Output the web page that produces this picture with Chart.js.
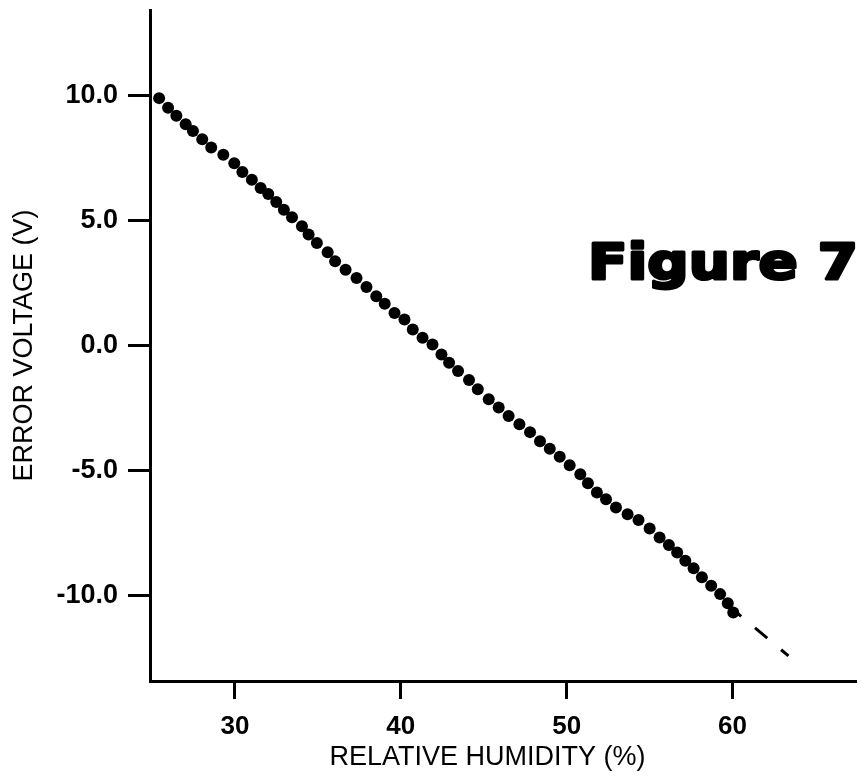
<!DOCTYPE html>
<html>
<head>
<meta charset="utf-8">
<script src="https://cdn.jsdelivr.net/npm/chart.js@4/dist/chart.umd.min.js"></script>
<style>
  html, body { margin: 0; padding: 0; background: #fff; overflow: hidden; }
  canvas { display: block; }
</style>
</head>
<body>
<canvas id="c" width="862" height="777"></canvas>
<script>
// ---- data ----
const humidity = [
  25.43, 25.97, 26.47, 27.03, 27.47, 28.03, 28.57, 29.30, 29.96, 30.45,
  31.02, 31.55, 32.01, 32.49, 32.95, 33.44, 34.04, 34.44, 34.94, 35.59,
  36.04, 36.67, 37.33, 37.93, 38.52, 39.03, 39.62, 40.22, 40.72, 41.31,
  41.91, 42.45, 42.91, 43.45, 44.11, 44.64, 45.30, 45.90, 46.50, 47.15,
  47.79, 48.39, 48.98, 49.58, 50.18, 50.82, 51.28, 51.82, 52.37, 52.97,
  53.67, 54.33, 55.00, 55.60, 56.16, 56.66, 57.15, 57.65, 58.15, 58.71,
  59.25, 59.71, 60.04
];
const errorVoltage = [
  9.88, 9.50, 9.18, 8.84, 8.57, 8.24, 7.91, 7.62, 7.28, 6.93,
  6.62, 6.29, 6.05, 5.73, 5.42, 5.12, 4.76, 4.43, 4.09, 3.72,
  3.36, 3.03, 2.70, 2.34, 1.97, 1.67, 1.30, 1.04, 0.64, 0.31,
  0.04, -0.36, -0.69, -1.02, -1.38, -1.75, -2.15, -2.48, -2.82, -3.15,
  -3.46, -3.82, -4.12, -4.44, -4.78, -5.14, -5.50, -5.87, -6.14, -6.47,
  -6.74, -6.97, -7.31, -7.67, -7.97, -8.27, -8.60, -8.90, -9.26, -9.60,
  -9.93, -10.29, -10.66
];
// dashed extrapolation line
const fitX = [59.78, 63.37];
const fitY = [-10.41, -12.40];

const xTicks = [30, 40, 50, 60];
const yTicks = [-10, -5, 0, 5, 10];
const xRange = [24.88, 67.44];
const yRange = [-13.4, 13.4];

const xTitle = 'RELATIVE HUMIDITY (%)';
const yTitle = 'ERROR VOLTAGE (V)';
const figLabel = 'Figure 7';

// ---- chart ----
const FONT = '"Liberation Sans", Arial, Helvetica, sans-serif';

const textPlugin = {
  id: 'texts',
  afterDraw(chart) {
    const ctx = chart.ctx;
    ctx.save();
    ctx.fillStyle = '#000';
    // x axis title
    ctx.font = '27px ' + FONT;
    ctx.textAlign = 'center';
    ctx.textBaseline = 'alphabetic';
    ctx.fillText(xTitle, 487.5, 765);
    // Figure label
    ctx.font = 'bold 50px "DejaVu Sans", sans-serif';
    ctx.textAlign = 'left';
    const w = ctx.measureText(figLabel).width;
    const sx = 270 / w;
    ctx.translate(588, 279);
    ctx.scale(sx, 1);
    ctx.lineWidth = 3;
    ctx.strokeStyle = '#000';
    ctx.lineJoin = 'round';
    ctx.fillText(figLabel, 0, 0);
    ctx.strokeText(figLabel, 0, 0);
    ctx.restore();
  }
};

new Chart(document.getElementById('c'), {
  type: 'scatter',
  data: {
    datasets: [
      {
        label: 'data',
        data: humidity.map((x, i) => ({ x: x, y: errorVoltage[i] })),
        backgroundColor: '#000',
        borderColor: '#000',
        borderWidth: 0,
        pointRadius: 6,
        pointHoverRadius: 6,
        order: 0
      },
      {
        label: 'fit',
        type: 'line',
        data: fitX.map((x, i) => ({ x: x, y: fitY[i] })),
        borderColor: '#000',
        borderWidth: 3,
        borderDash: [16, 18],
        pointRadius: 0,
        fill: false,
        showLine: true,
        order: 1
      }
    ]
  },
  options: {
    responsive: false,
    animation: false,
    devicePixelRatio: 1,
    layout: { padding: { top: 10, right: 0, left: 0, bottom: 0 } },
    plugins: {
      legend: { display: false },
      tooltip: { enabled: false }
    },
    scales: {
      x: {
        type: 'linear',
        min: xRange[0],
        max: xRange[1],
        afterBuildTicks: s => { s.ticks = xTicks.map(v => ({ value: v })); },
        afterFit: s => { s.height = 96; s.paddingLeft = 0; s.paddingRight = 0; },
        ticks: {
          color: '#000',
          font: { family: FONT, size: 26, weight: 'bold' },
          padding: 12,
          maxRotation: 0,
          callback: v => String(v)
        },
        grid: {
          display: true,
          drawOnChartArea: false,
          drawTicks: true,
          tickLength: 18,
          tickWidth: 3,
          tickColor: '#000'
        },
        border: { display: true, color: '#000', width: 3 }
      },
      y: {
        type: 'linear',
        min: yRange[0],
        max: yRange[1],
        afterBuildTicks: s => { s.ticks = yTicks.map(v => ({ value: v })); },
        afterFit: s => { s.width = 150; s.paddingTop = 0; s.paddingBottom = 0; },
        ticks: {
          color: '#000',
          font: { family: FONT, size: 27, weight: 'bold' },
          padding: 10,
          callback: v => Number(v).toFixed(1)
        },
        grid: {
          display: true,
          drawOnChartArea: false,
          drawTicks: true,
          tickLength: 22,
          tickWidth: 3,
          tickColor: '#000'
        },
        border: { display: true, color: '#000', width: 3 },
        title: {
          display: true,
          text: yTitle,
          color: '#000',
          font: { family: FONT, size: 27, weight: 'normal' },
          padding: { top: 8, bottom: 0 }
        }
      }
    }
  },
  plugins: [textPlugin]
});
</script>
</body>
</html>
